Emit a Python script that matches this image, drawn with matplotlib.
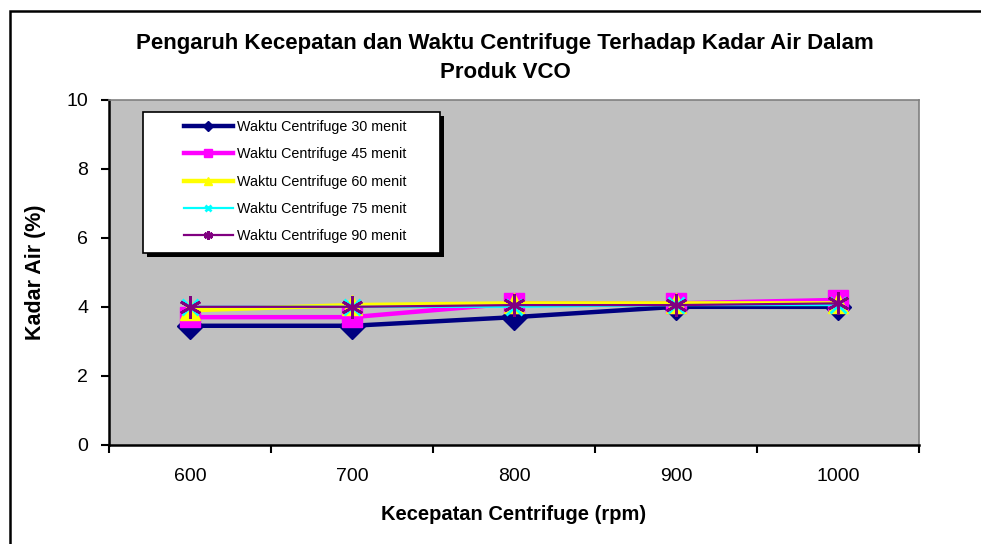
import matplotlib.pyplot as plt
from matplotlib.patches import Rectangle

plt.rcParams["font.family"] = ["Liberation Sans", "DejaVu Sans"]

speeds = ["600", "700", "800", "900", "1000"]
series_labels = [
    "Waktu Centrifuge 30 menit",
    "Waktu Centrifuge 45 menit",
    "Waktu Centrifuge 60 menit",
    "Waktu Centrifuge 75 menit",
    "Waktu Centrifuge 90 menit",
]
kadar_30 = [3.45, 3.45, 3.7, 4.0, 4.0]
kadar_45 = [3.7, 3.7, 4.1, 4.1, 4.2]
kadar_60 = [3.9, 4.05, 4.1, 4.1, 4.1]
kadar_75 = [4.0, 4.0, 4.0, 4.05, 4.05]
kadar_90 = [4.0, 4.0, 4.05, 4.05, 4.1]

styles = [
    dict(color="#000080", marker="D", ms=13, lw=3.2),
    dict(color="#FF00FF", marker="s", ms=14, lw=3.2),
    dict(color="#FFFF00", marker="^", ms=14, lw=3.2),
    dict(color="#00FFFF", marker="x", ms=12, lw=1.6, mew=2),
    dict(color="#800080", marker=(6, 2, 0), ms=16, lw=1.6, mew=2),
]

W, H = 981, 544
fig = plt.figure(figsize=(W / 100, H / 100), dpi=100)
ax = fig.add_axes([109 / W, 1 - 444.7 / H, 810 / W, 344.7 / H])
ax.set_facecolor("#C0C0C0")

x = list(range(len(speeds)))
for values, label, st in zip([kadar_30, kadar_45, kadar_60, kadar_75, kadar_90], series_labels, styles):
    ax.plot(x, values, label=label, color=st["color"], marker=st["marker"],
            markersize=st["ms"], linewidth=st["lw"], markeredgewidth=st.get("mew", 1),
            markeredgecolor=st["color"], clip_on=False)

ax.set_xlim(-0.5, len(speeds) - 0.5)
ax.set_ylim(0, 10)
ax.set_yticks([0, 2, 4, 6, 8, 10])
ax.set_xticks(x)
ax.set_xticklabels(speeds)
ax.set_xticks([i - 0.5 for i in range(len(speeds) + 1)], minor=True)
ax.tick_params(axis="x", which="major", length=0, pad=17, labelsize=14)
ax.tick_params(axis="x", which="minor", length=6, width=1.5, direction="out")
ax.tick_params(axis="y", length=6, width=1.5, direction="out", pad=9, labelsize=14)

for side in ["left", "bottom"]:
    ax.spines[side].set_color("black")
    ax.spines[side].set_linewidth(1.8)
for side in ["top", "right"]:
    ax.spines[side].set_color("#808080")
    ax.spines[side].set_linewidth(1.2)

ax.set_xlabel("Kecepatan Centrifuge (rpm)", fontsize=14.5, fontweight="bold", labelpad=14)
ax.set_ylabel("Kadar Air (%)", fontsize=15.5, fontweight="bold", labelpad=15)

fig.text(505 / W, 1 - 58 / H,
         "Pengaruh Kecepatan dan Waktu Centrifuge Terhadap Kadar Air Dalam\nProduk VCO",
         ha="center", va="center", fontsize=16, fontweight="bold", linespacing=1.45)

# legend box with drop shadow, drawn by hand so the entries can sit inset
lx0, ly0, lx1, ly1 = 143, 112, 440, 253
ax.add_patch(Rectangle(((lx0 + 4) / W, 1 - (ly1 + 4) / H), (lx1 - lx0) / W, (ly1 - ly0) / H,
                       transform=fig.transFigure, facecolor="black", edgecolor="none",
                       zorder=5, clip_on=False))
ax.add_patch(Rectangle((lx0 / W, 1 - ly1 / H), (lx1 - lx0) / W, (ly1 - ly0) / H,
                       transform=fig.transFigure, facecolor="white", edgecolor="black",
                       linewidth=1.2, zorder=6, clip_on=False))
leg = ax.legend(loc="upper left", bbox_to_anchor=(184 / W, 1 - 120 / H),
                bbox_transform=fig.transFigure, fontsize=10.3, frameon=False,
                markerscale=0.4, handlelength=3.4, labelspacing=0.93, borderpad=0,
                borderaxespad=0, handletextpad=0.3)
leg.set_zorder(7)

fig.patches.append(Rectangle((10 / W, -0.1), 1.1, 1.1 - 11 / H,
                             transform=fig.transFigure, fill=False,
                             edgecolor="black", linewidth=1.8, clip_on=False))

fig.savefig("out.png", dpi=100)
plt.close(fig)
